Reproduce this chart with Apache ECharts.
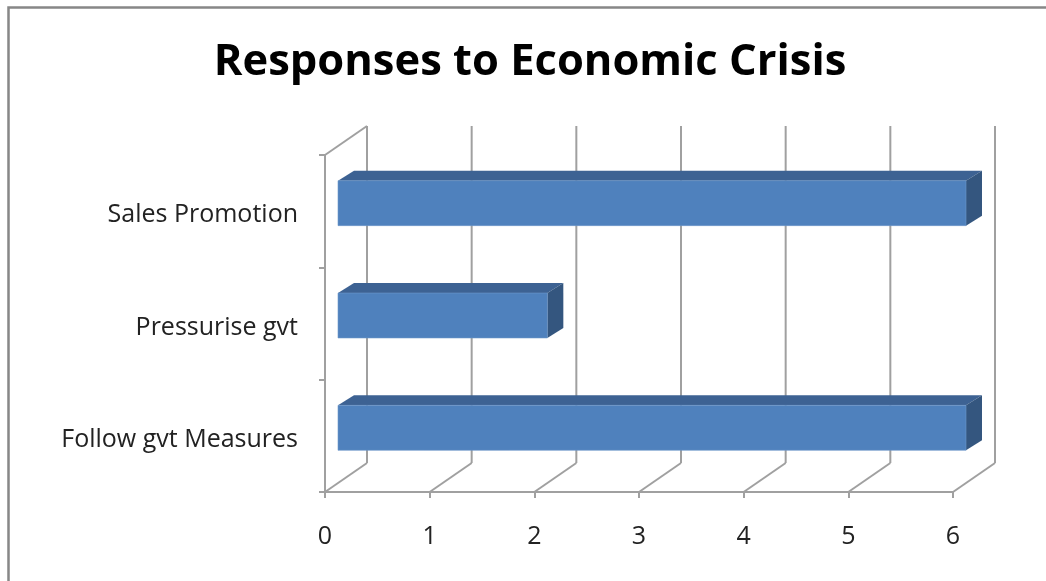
<!DOCTYPE html>
<html>
<head>
<meta charset="utf-8">
<script src="https://cdn.jsdelivr.net/npm/echarts@6/dist/echarts.min.js"></script>
<style>
  html, body { margin: 0; padding: 0; background: #fff; }
  #chart { width: 1046px; height: 581px; }
</style>
</head>
<body>
<div id="chart"></div>
<script>
// Survey answers: how firms responded to the economic crisis
const categories = ['Sales Promotion', 'Pressurise gvt', 'Follow gvt Measures'];
const responses = [6, 2, 6];
const tickValues = [0, 1, 2, 3, 4, 5, 6];

// Oblique offsets used for the pseudo-3D look
const WALL_DX = 42, WALL_DY = -29;     // back wall relative to the front plane
const BAR_DX = 13, BAR_DY = -8;        // bar front face relative to the front plane
const DEPTH_DX = 16, DEPTH_DY = -10;   // bar depth

const gridColor = '#a0a0a0';
const labelFont = '"Open Sans", Lato, sans-serif';

const chart = echarts.init(document.getElementById('chart'));

function renderWall(params, api) {
  const cs = params.coordSys;
  const v = api.value(0);
  const x = api.coord([v, 0])[0];
  const top = cs.y, bottom = cs.y + cs.height;
  const style = { stroke: gridColor, lineWidth: 2, fill: null };
  const children = [
    { type: 'line', shape: { x1: x + WALL_DX, y1: top + WALL_DY, x2: x + WALL_DX, y2: bottom + WALL_DY }, style },
    { type: 'line', shape: { x1: x, y1: bottom, x2: x + WALL_DX, y2: bottom + WALL_DY }, style }
  ];
  if (params.dataIndex === 0) {
    children.push({ type: 'line', shape: { x1: x, y1: top, x2: x + WALL_DX, y2: top + WALL_DY }, style });
  }
  return { type: 'group', children };
}

function renderBar(params, api) {
  const cat = api.value(1);
  const start = api.coord([0, cat]);
  const end = api.coord([api.value(0), cat]);
  const band = api.size([0, 1])[1];
  const h = band * 0.4;
  const x0 = start[0] + BAR_DX, x1 = end[0] + BAR_DX;
  const yT = start[1] + BAR_DY - h / 2, yB = yT + h;
  return {
    type: 'group',
    children: [
      { type: 'polygon', shape: { points: [[x0, yT], [x1, yT], [x1 + DEPTH_DX, yT + DEPTH_DY], [x0 + DEPTH_DX, yT + DEPTH_DY]] },
        style: { fill: '#3d6293' } },
      { type: 'polygon', shape: { points: [[x1, yT], [x1 + DEPTH_DX, yT + DEPTH_DY], [x1 + DEPTH_DX, yB + DEPTH_DY], [x1, yB]] },
        style: { fill: '#34567f' } },
      { type: 'rect', shape: { x: x0, y: yT, width: x1 - x0, height: h },
        style: { fill: '#4f81bd', stroke: '#6d97c9', lineWidth: 0.6 } }
    ]
  };
}

chart.setOption({
  animation: false,
  backgroundColor: '#fff',
  title: {
    text: 'Responses to Economic Crisis',
    left: 525, top: 36, textAlign: 'center',
    textStyle: { fontFamily: labelFont, fontWeight: 'bold', fontSize: 43.5, color: '#000' }
  },
  graphic: [
    { type: 'polyline', shape: { points: [[8.5, 581], [8.5, 7.5], [1046, 7.5]] },
      style: { stroke: '#878787', lineWidth: 2.5, fill: null } }
  ],
  grid: { left: 325, right: 93, top: 155, bottom: 89 },
  xAxis: {
    type: 'value', min: 0, max: 6, interval: 1,
    axisLine: { show: true, lineStyle: { color: gridColor, width: 2 } },
    axisTick: { show: true, length: 6, lineStyle: { color: gridColor, width: 2 } },
    splitLine: { show: false },
    axisLabel: { margin: 32, fontFamily: labelFont, fontSize: 25, color: '#222' }
  },
  yAxis: {
    type: 'category', inverse: true, data: categories,
    axisLine: { show: true, lineStyle: { color: gridColor, width: 2 } },
    axisTick: { show: true, length: 6, lineStyle: { color: gridColor, width: 2 } },
    axisLabel: { margin: 27, fontFamily: labelFont, fontSize: 25, color: '#222', verticalAlign: 'top', lineHeight: 8 }
  },
  series: [
    { type: 'custom', renderItem: renderWall, data: tickValues.map(v => [v]), encode: { x: 0 }, silent: true, z: 1 },
    { type: 'custom', renderItem: renderBar, data: responses.map((v, i) => [v, i]), encode: { x: 0, y: 1 }, z: 2 }
  ]
});
</script>
</body>
</html>
